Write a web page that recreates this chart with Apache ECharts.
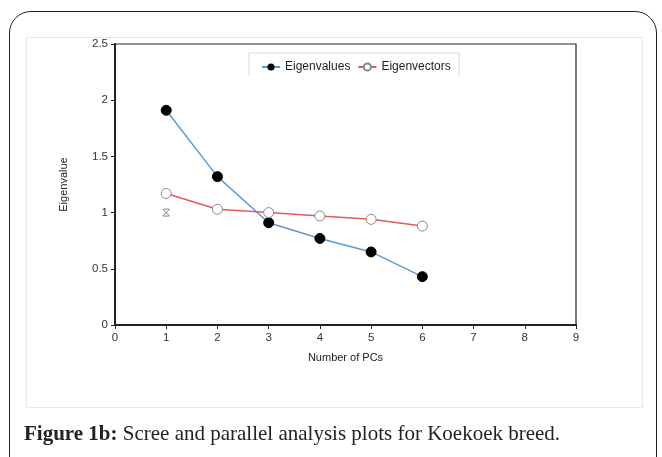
<!DOCTYPE html>
<html>
<head>
<meta charset="utf-8">
<script src="https://cdn.jsdelivr.net/npm/echarts@6/dist/echarts.min.js"></script>
<style>
  html,body{margin:0;padding:0;background:#fff;}
  #frame{position:absolute;left:9px;top:11px;width:648px;height:470px;border:1.5px solid #222;border-radius:22px;box-sizing:border-box;}
  #panel{position:absolute;left:26px;top:37px;width:617px;height:371px;border:1px solid #e8e8e8;box-sizing:border-box;}
  #chart{position:absolute;left:0;top:0;width:662px;height:457px;}
  #caption{position:absolute;left:24px;top:421px;font-family:"Liberation Serif","DejaVu Serif",serif;font-size:21px;color:#222;white-space:nowrap;}
</style>
</head>
<body>
<div id="frame"></div>
<div id="panel"></div>
<div id="chart"></div>
<div id="caption"><b>Figure 1b:</b> Scree and parallel analysis plots for Koekoek breed.</div>
<script>
// data
var pcs = [1, 2, 3, 4, 5, 6];
var eigenvalues = [1.91, 1.32, 0.91, 0.77, 0.65, 0.43];
var eigenvectors = [1.17, 1.03, 1.00, 0.97, 0.94, 0.88];
var starPoint = [[1, 1.0]];

var chart = echarts.init(document.getElementById('chart'));

var valData = pcs.map(function(p, i){ return [p, eigenvalues[i]]; });
var vecData = pcs.map(function(p, i){ return [p, eigenvectors[i]]; });

var option = {
  animation: false,
  textStyle: {fontFamily: 'Liberation Sans, Arial, sans-serif'},
  grid: {left: 115, right: 86, top: 44, bottom: 132, show: true, borderColor: '#222', borderWidth: 1.2},
  legend: {
    left: 256, top: 56, itemGap: 7, itemWidth: 18, itemHeight: 9,
    textStyle: {fontSize: 12, color: '#222'},
    data: ['Eigenvalues', 'Eigenvectors']
  },
  graphic: [{
    type: 'polyline',
    shape: {points: [[249, 76], [249, 53], [459, 53], [459, 76]]},
    style: {stroke: '#d8d8d8', lineWidth: 1, fill: null}
  }],
  xAxis: {
    type: 'value', min: 0, max: 9, interval: 1,
    name: 'Number of PCs', nameLocation: 'middle', nameGap: 27,
    nameTextStyle: {fontSize: 11, color: '#222'},
    axisLine: {show: true, lineStyle: {color: '#222', width: 2}},
    axisTick: {show: true, length: 4, lineStyle: {color: '#222'}},
    axisLabel: {fontSize: 11.5, color: '#333', margin: 7},
    splitLine: {show: false}
  },
  yAxis: {
    type: 'value', min: 0, max: 2.5, interval: 0.5,
    name: 'Eigenvalue', nameLocation: 'middle', nameGap: 46,
    nameTextStyle: {fontSize: 11, color: '#222'},
    axisLine: {show: true, lineStyle: {color: '#222', width: 2}},
    axisTick: {show: true, length: 4, lineStyle: {color: '#222'}},
    axisLabel: {fontSize: 11.5, color: '#333', margin: 7},
    splitLine: {show: false}
  },
  series: [
    {
      name: 'Eigenvalues', type: 'line', data: valData,
      symbol: 'circle', symbolSize: 10,
      lineStyle: {color: '#5b9bd5', width: 1.5},
      itemStyle: {color: '#000', borderColor: '#000'}
    },
    {
      name: 'Eigenvectors', type: 'line', data: vecData,
      symbol: 'circle', symbolSize: 10,
      lineStyle: {color: '#e05a5a', width: 1.5},
      itemStyle: {color: '#fff', borderColor: '#888', borderWidth: 1}
    },
    {
      name: 'star', type: 'scatter', data: starPoint,
      symbol: 'path://M0,0L10,10M10,0L0,10M1,0L9,0M1,10L9,10',
      symbolSize: 7,
      itemStyle: {color: 'none', borderColor: '#666', borderWidth: 1}
    }
  ]
};
chart.setOption(option);
</script>
</body>
</html>
